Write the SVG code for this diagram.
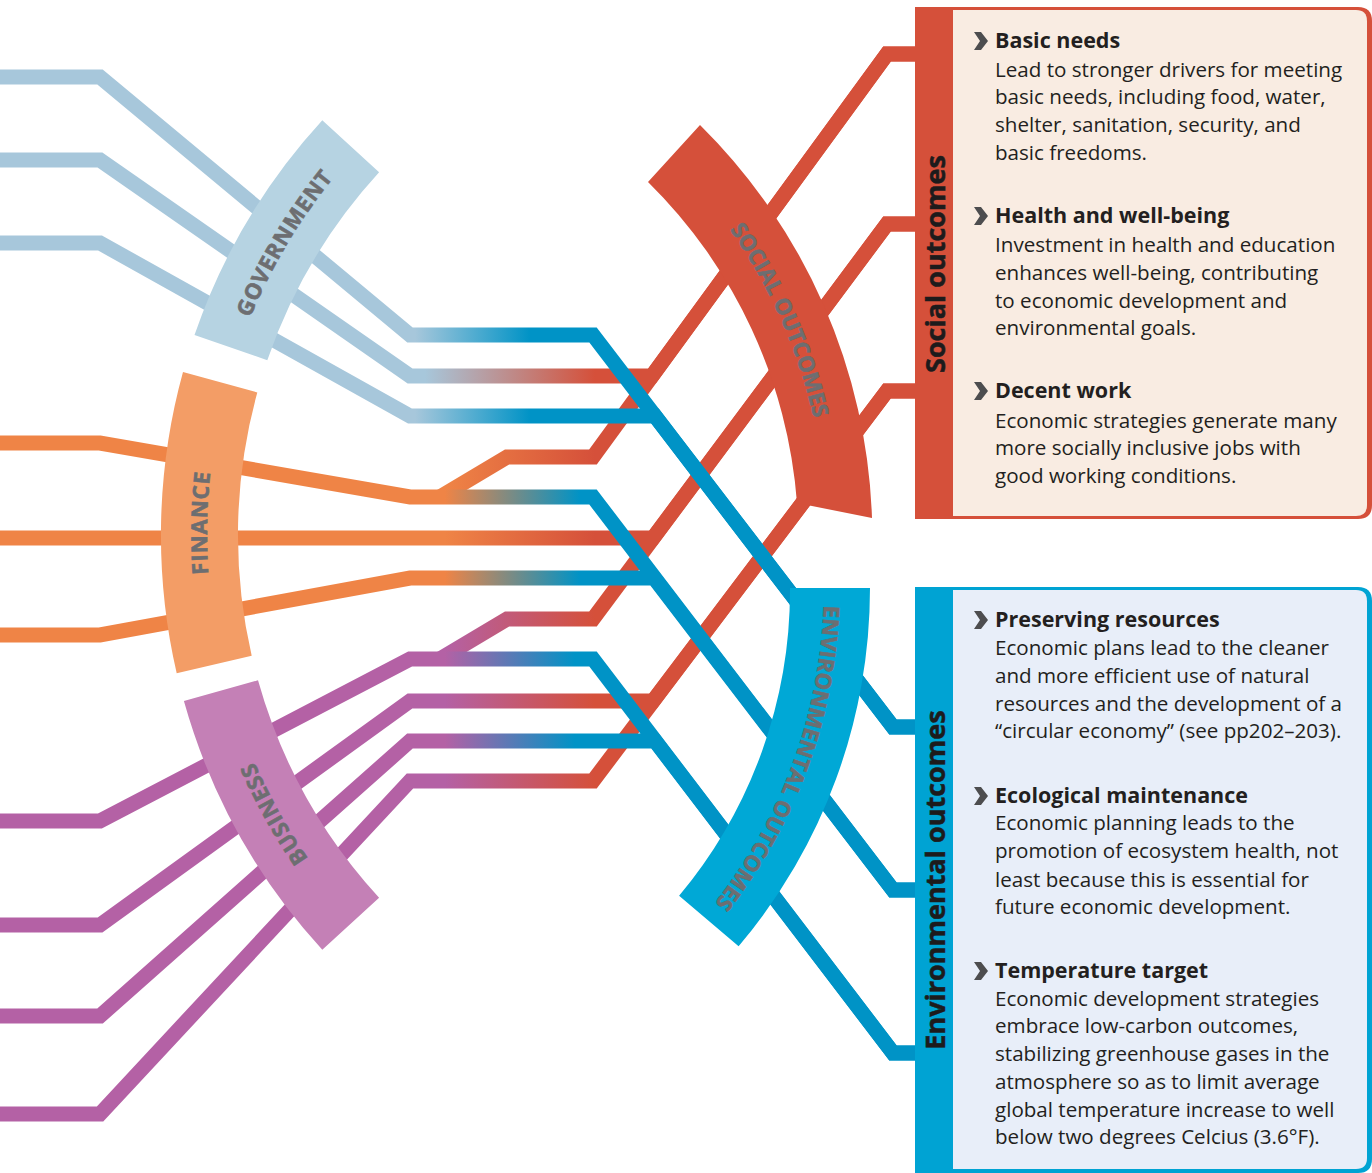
<svg xmlns="http://www.w3.org/2000/svg" xmlns:xlink="http://www.w3.org/1999/xlink" width="1372" height="1173" viewBox="0 0 1372 1173">
<defs>
<style>
.ln{fill:none;stroke-width:15;stroke-linejoin:miter;stroke-miterlimit:10}
.lbl{font-family:"Open Sans","Noto Sans",sans-serif;font-weight:700;font-size:22px;fill:#6d6e71;stroke:#6d6e71;stroke-width:0.6px;letter-spacing:0.8px}
.lbl2{font-family:"Open Sans","Noto Sans",sans-serif;font-weight:700;font-size:22px;fill:#6d6e71;stroke:#6d6e71;stroke-width:0.6px;letter-spacing:0px}
.vt{font-family:"Open Sans","Noto Sans",sans-serif;font-weight:700;font-size:27px;fill:#1d1b1c;stroke:#1d1b1c;stroke-width:0.5px}
.ti{font-family:"Open Sans","Noto Sans",sans-serif;font-weight:700;font-size:21.5px;fill:#231f20}
.bd{font-family:"Open Sans","Noto Sans",sans-serif;font-weight:400;font-size:20.6px;fill:#231f20}
.chev{fill:#4d4d4f}
</style>
<linearGradient id="gGB" gradientUnits="userSpaceOnUse" x1="415" y1="0" x2="530" y2="0"><stop offset="0" stop-color="#a7c7db"/><stop offset="1" stop-color="#0093c6"/></linearGradient>
<linearGradient id="gGR" gradientUnits="userSpaceOnUse" x1="425" y1="0" x2="595" y2="0"><stop offset="0" stop-color="#a7c7db"/><stop offset="1" stop-color="#d5503a"/></linearGradient>
<linearGradient id="gFB" gradientUnits="userSpaceOnUse" x1="445" y1="0" x2="580" y2="0"><stop offset="0" stop-color="#ef8446"/><stop offset="1" stop-color="#0093c6"/></linearGradient>
<linearGradient id="gFR" gradientUnits="userSpaceOnUse" x1="445" y1="0" x2="595" y2="0"><stop offset="0" stop-color="#ef8446"/><stop offset="1" stop-color="#d5503a"/></linearGradient>
<linearGradient id="gPB" gradientUnits="userSpaceOnUse" x1="445" y1="0" x2="575" y2="0"><stop offset="0" stop-color="#b461a5"/><stop offset="1" stop-color="#0093c6"/></linearGradient>
<linearGradient id="gPR" gradientUnits="userSpaceOnUse" x1="445" y1="0" x2="595" y2="0"><stop offset="0" stop-color="#b461a5"/><stop offset="1" stop-color="#d5503a"/></linearGradient>
<path id="chevron" d="M-7,-9 L0,-9 L7,0 L0,9 L-7,9 L-1,0 Z"/>
<path id="tpGov" d="M238,350.1 A568,568 0 0 1 356.2,151.3"/>
<path id="tpFin" d="M221.5,662.8 A568,568 0 0 1 227.4,384.1"/>
<path id="tpBus" d="M356.2,918.7 A568,568 0 0 1 228.2,688.7"/>
<path id="tpSoc" d="M669.7,158.1 A535,535 0 0 1 826.4,510.9"/>
<path id="tpEnv" d="M824,588 A508,508 0 0 1 703.5,916.6"/>
</defs>
<rect width="1372" height="1173" fill="#ffffff"/>

<g id="connectors">
  <g id="to-social">
    <path class="ln" stroke="url(#gGR)" d="M0,160 H100 L410,376 H652 L887,54 H915"/>
    <path class="ln" stroke="url(#gFR)" d="M440,497 L507,457 H593 L887,54 H915"/>
    <path class="ln" stroke="url(#gFR)" d="M0,538 H653 L887,224 H915"/>
    <path class="ln" stroke="url(#gPR)" d="M440,659 L507,619 H593 L887,224 H915"/>
    <path class="ln" stroke="url(#gPR)" d="M0,925 H100 L410,701 H653 L887,391 H915"/>
    <path class="ln" stroke="url(#gPR)" d="M0,1114 H100 L410,781 H593 L887,391 H915"/>
  </g>
  <g id="to-environment">
    <path class="ln" stroke="url(#gGB)" d="M0,77 H100 L410,335 H593 L893,727 H915"/>
    <path class="ln" stroke="url(#gGB)" d="M0,243 H100 L410,416 H655 L893,727 H915"/>
    <path class="ln" stroke="url(#gFB)" d="M0,443 H100 L410,497 H593 L893,890 H915"/>
    <path class="ln" stroke="url(#gFB)" d="M0,635 H100 L410,578 H654 L893,890 H915"/>
    <path class="ln" stroke="url(#gPB)" d="M0,821 H100 L410,659 H593 L893,1053 H915"/>
    <path class="ln" stroke="url(#gPB)" d="M0,1016 H100 L410,741 H655 L893,1053 H915"/>
  </g>
</g>

<g id="government">
  <path fill="#b6d3e2" d="M322.3,120.2 A614,614 0 0 0 194.5,335.1 L267.3,360.2 A537,537 0 0 1 379.1,172.2 Z"/>
  <text class="lbl"><textPath href="#tpGov" startOffset="50%" text-anchor="middle">GOVERNMENT</textPath></text>
</g>
<g id="finance">
  <path fill="#f39d66" d="M183,371.9 A614,614 0 0 0 176.7,673.2 L251.7,655.8 A537,537 0 0 1 257.3,392.4 Z"/>
  <text class="lbl"><textPath href="#tpFin" startOffset="50%" text-anchor="middle">FINANCE</textPath></text>
</g>
<g id="business">
  <path fill="#c480b6" d="M183.9,701.1 A614,614 0 0 0 322.3,949.8 L379.1,897.8 A537,537 0 0 1 258,680.3 Z"/>
  <text class="lbl"><textPath href="#tpBus" startOffset="50%" text-anchor="middle">BUSINESS</textPath></text>
</g>
<g id="social-outcomes-arc">
  <path fill="#d5503a" d="M700,125 A580,580 0 0 1 872,518 L797,503 A504,504 0 0 0 648,182 Z"/>
  <text class="lbl2"><textPath href="#tpSoc" startOffset="50%" text-anchor="middle">SOCIAL OUTCOMES</textPath></text>
</g>
<g id="environmental-outcomes-arc">
  <path fill="#00a8d6" d="M870,588 A554,554 0 0 1 738.6,946.3 L679.1,895.8 A476,476 0 0 0 790,588 Z"/>
  <text class="lbl2"><textPath href="#tpEnv" startOffset="50%" text-anchor="middle">ENVIRONMENTAL OUTCOMES</textPath></text>
</g>

<g id="social-box">
  <path fill="#d5503a" d="M915,7 H1358 Q1372,7 1372,21 V505 Q1372,519 1358,519 H915 Z"/>
  <path fill="#f9ece2" d="M953,10 H1356 Q1367,10 1367,21 V505 Q1367,516 1356,516 H953 Z"/>
  <text class="vt" transform="translate(945,264) rotate(-90)" text-anchor="middle">Social outcomes</text>
  <use href="#chevron" class="chev" transform="translate(981,41)"/>
  <use href="#chevron" class="chev" transform="translate(981,216)"/>
  <use href="#chevron" class="chev" transform="translate(981,391)"/>
  <text class="ti" x="995" y="48">Basic needs</text>
  <text class="bd" x="995" y="77">Lead to stronger drivers for meeting</text>
  <text class="bd" x="995" y="104">basic needs, including food, water,</text>
  <text class="bd" x="995" y="132">shelter, sanitation, security, and</text>
  <text class="bd" x="995" y="160">basic freedoms.</text>
  <text class="ti" x="995" y="223">Health and well-being</text>
  <text class="bd" x="995" y="252">Investment in health and education</text>
  <text class="bd" x="995" y="280">enhances well-being, contributing</text>
  <text class="bd" x="995" y="308">to economic development and</text>
  <text class="bd" x="995" y="335">environmental goals.</text>
  <text class="ti" x="995" y="398">Decent work</text>
  <text class="bd" x="995" y="428">Economic strategies generate many</text>
  <text class="bd" x="995" y="455">more socially inclusive jobs with</text>
  <text class="bd" x="995" y="483">good working conditions.</text>
</g>

<g id="environmental-box">
  <path fill="#00a3d3" d="M915,587 H1358 Q1372,587 1372,601 V1159 Q1372,1173 1358,1173 H915 Z"/>
  <path fill="#e8eef9" d="M953,590 H1356 Q1367,590 1367,601 V1158 Q1367,1169 1356,1169 H953 Z"/>
  <text class="vt" transform="translate(945,880) rotate(-90)" text-anchor="middle">Environmental outcomes</text>
  <use href="#chevron" class="chev" transform="translate(981,620)"/>
  <use href="#chevron" class="chev" transform="translate(981,796)"/>
  <use href="#chevron" class="chev" transform="translate(981,971)"/>
  <text class="ti" x="995" y="627">Preserving resources</text>
  <text class="bd" x="995" y="655">Economic plans lead to the cleaner</text>
  <text class="bd" x="995" y="683">and more efficient use of natural</text>
  <text class="bd" x="995" y="711">resources and the development of a</text>
  <text class="bd" x="995" y="738">“circular economy” (see pp202–203).</text>
  <text class="ti" x="995" y="803">Ecological maintenance</text>
  <text class="bd" x="995" y="830">Economic planning leads to the</text>
  <text class="bd" x="995" y="858">promotion of ecosystem health, not</text>
  <text class="bd" x="995" y="887">least because this is essential for</text>
  <text class="bd" x="995" y="914">future economic development.</text>
  <text class="ti" x="995" y="978">Temperature target</text>
  <text class="bd" x="995" y="1006">Economic development strategies</text>
  <text class="bd" x="995" y="1033">embrace low-carbon outcomes,</text>
  <text class="bd" x="995" y="1061">stabilizing greenhouse gases in the</text>
  <text class="bd" x="995" y="1089">atmosphere so as to limit average</text>
  <text class="bd" x="995" y="1117">global temperature increase to well</text>
  <text class="bd" x="995" y="1144">below two degrees Celcius (3.6°F).</text>
</g>
</svg>
